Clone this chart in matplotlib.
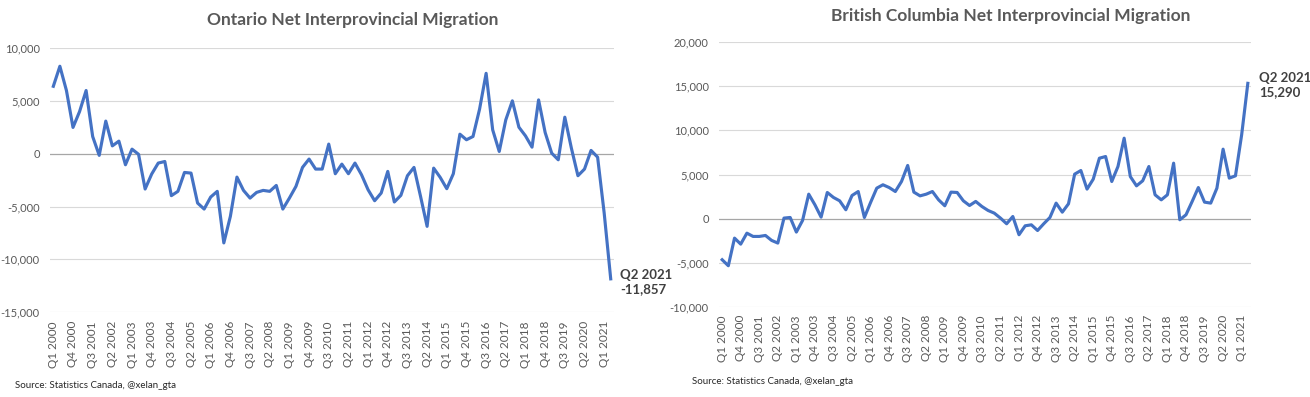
import matplotlib
matplotlib.use("Agg")
import matplotlib.pyplot as plt
from matplotlib.ticker import FuncFormatter

plt.rcParams['font.family'] = ['Lato', 'DejaVu Sans']

quarters = [f"Q{q} {y}" for y in range(2000, 2022) for q in range(1, 5)][:86]

ontario = [6400, 8300, 6000, 2500, 4000, 6000, 1640, -150, 3100, 750,
           1200, -1040, 440, -50, -3340, -1920, -880, -730, -3970, -3560,
           -1770, -1830, -4670, -5240, -4100, -3560, -8450, -5930, -2210, -3470,
           -4200, -3660, -3470, -3560, -3000, -5240, -4200, -3090, -1290, -500,
           -1450, -1450, 920, -1890, -980, -1890, -880, -1990, -3410, -4450,
           -3720, -1670, -4570, -3940, -2080, -1290, -4040, -6880, -1360, -2240,
           -3310, -1890, 1860, 1330, 1640, 4230, 7630, 2270, 220, 3220,
           5020, 2520, 1700, 630, 5110, 2020, 60, -570, 3470, 540,
           -2080, -1450, 320, -320, -5600, -11857]

bc = [-4620, -5300, -2180, -2860, -1620, -1990, -1990, -1880, -2440, -2740,
      80, 150, -1500, -190, 2780, 1580, 190, 2970, 2410, 2030,
      1020, 2630, 3080, 150, 1840, 3460, 3840, 3530, 3080, 4210,
      6020, 3010, 2590, 2780, 3080, 2140, 1470, 3010, 2970, 2030,
      1500, 1960, 1390, 940, 640, 80, -560, 260, -1800, -790,
      -680, -1320, -560, 150, 1770, 750, 1690, 5040, 5450, 3350,
      4470, 6840, 7030, 4210, 5900, 9100, 4770, 3720, 4290, 5900,
      2710, 2140, 2710, 6280, -110, 450, 1960, 3530, 1880, 1770,
      3460, 7860, 4590, 4850, 9470, 15290]

ont_yticks = [-15000, -10000, -5000, 0, 5000, 10000]
bc_yticks = [-10000, -5000, 0, 5000, 10000, 15000, 20000]

LINE = '#4472C4'
GRID = '#d9d9d9'
ZERO = '#a6a6a6'
TXT = '#595959'

fig = plt.figure(figsize=(13.1, 3.97), dpi=100)


def style(ax, vals, yticks, pad_x):
    x = list(range(len(vals)))
    for t in yticks:
        ax.axhline(t, color=ZERO if t == 0 else GRID, lw=0.9 if t == 0 else 0.8, zorder=1)
    ax.plot(x, vals, color=LINE, lw=2.25, zorder=3, solid_joinstyle='round')
    ax.set_xlim(-0.5, len(vals) - 0.5)
    ax.set_ylim(yticks[0], yticks[-1])
    ax.set_yticks(yticks)
    ax.yaxis.set_major_formatter(FuncFormatter(lambda v, p: f"{v:,.0f}".replace('\u2212', '-')))
    ax.set_xticks(x[::3])
    ax.set_xticklabels(quarters[::3], rotation=90)
    for s in ax.spines.values():
        s.set_visible(False)
    ax.tick_params(axis='y', length=0, pad=7.5, labelsize=8, labelcolor=TXT)
    ax.tick_params(axis='x', length=0, pad=pad_x, labelsize=8.5, labelcolor=TXT)


ax1 = fig.add_axes([0.0382, 0.2141, 0.4305, 0.6642])
style(ax1, ontario, ont_yticks, 6.5)
ax1.annotate("Q2 2021\n-11,857", xy=(len(ontario) - 1, ontario[-1]),
             xytext=(7, -2), textcoords='offset points', ha='left', va='center',
             fontsize=9.5, fontweight='bold', color='#404040', linespacing=1.2)

ax2 = fig.add_axes([0.5489, 0.2257, 0.4060, 0.6695])
style(ax2, bc, bc_yticks, 5.5)
ax2.annotate("Q2 2021\n15,290", xy=(len(bc) - 1, bc[-1]),
             xytext=(8, -1), textcoords='offset points', ha='left', va='center',
             fontsize=9.5, fontweight='bold', color='#404040', linespacing=1.2)

fig.text(353 / 1310, 1 - 20 / 397, "Ontario Net Interprovincial Migration",
         ha='center', va='center', fontsize=12.5, fontweight='bold', color=TXT)
fig.text(1011 / 1310, 1 - 16 / 397, "British Columbia Net Interprovincial Migration",
         ha='center', va='center', fontsize=12.5, fontweight='bold', color=TXT)

fig.text(15 / 1310, 1 - 386 / 397, "Source: Statistics Canada, @xelan_gta",
         ha='left', va='center', fontsize=7, color='#262626')
fig.text(692 / 1310, 1 - 382 / 397, "Source: Statistics Canada, @xelan_gta",
         ha='left', va='center', fontsize=7, color='#262626')

fig.savefig("out.png", dpi=100)
